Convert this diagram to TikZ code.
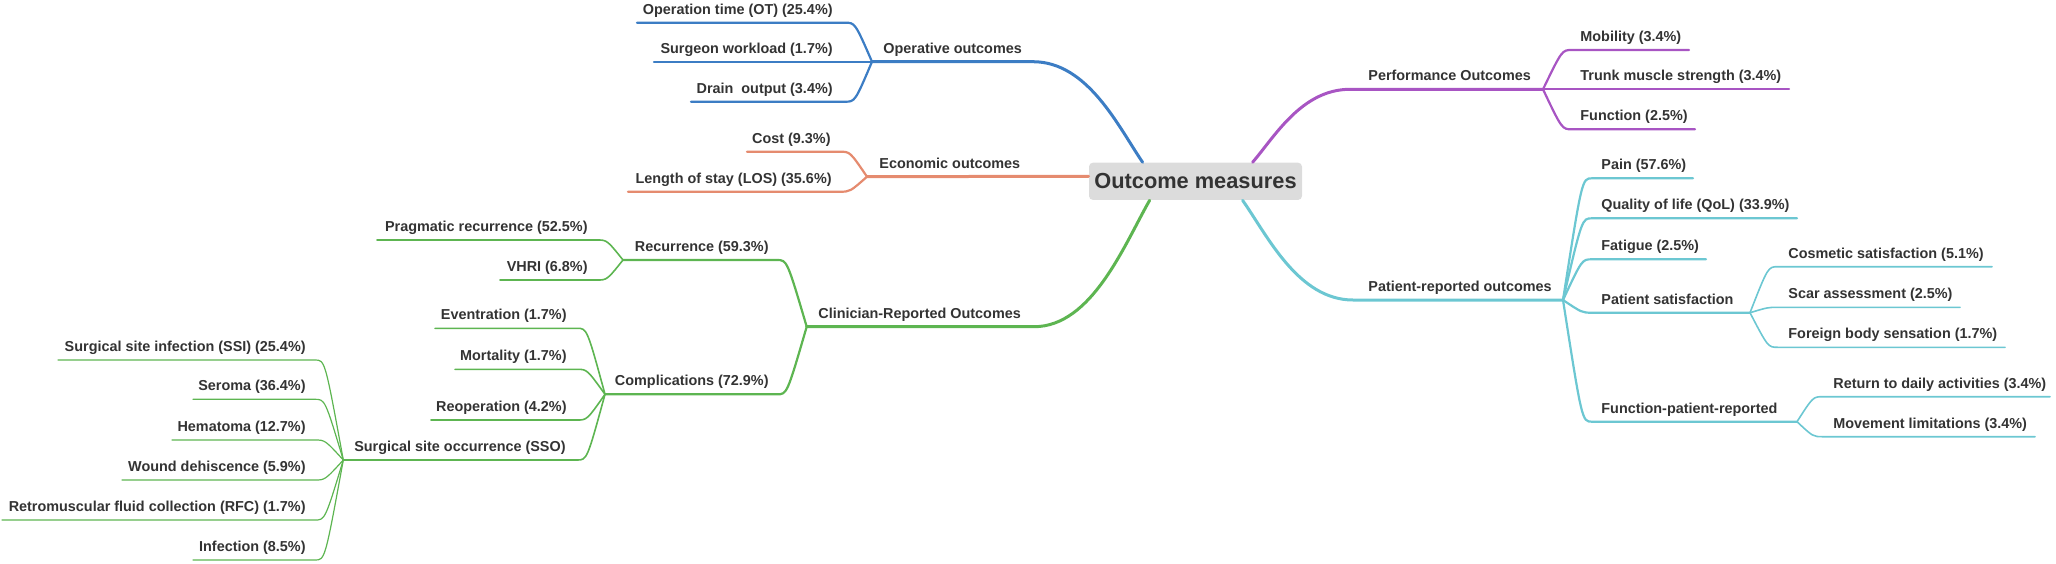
\documentclass[tikz,border=0pt]{standalone}
\usepackage{fontspec}
\setmainfont{Liberation Sans}
\usetikzlibrary{calc}
\definecolor{cblue}{HTML}{3C7DC4}
\definecolor{corange}{HTML}{E58B6F}
\definecolor{cpurple}{HTML}{A855C3}
\definecolor{cgreen}{HTML}{5DB551}
\definecolor{ccyan}{HTML}{6CC7D2}
\definecolor{rootgray}{HTML}{DCDCDC}
\definecolor{txt}{HTML}{333333}
\tikzset{
  lbl/.style={font=\bfseries\fontsize{7.2pt}{8pt}\selectfont, text=txt, inner sep=0pt},
  rootbox/.style={fill=rootgray, rounded corners=2pt, minimum width=106.5pt, minimum height=18.65pt,
    inner sep=0pt, font=\bfseries\fontsize{10.9pt}{12pt}\selectfont, text=txt},
  lw1/.style={line width=1.5pt, line cap=round},
  lw2/.style={line width=1.1pt, line cap=round},
  lw3/.style={line width=0.8pt, line cap=round},
  lw4/.style={line width=0.6pt, line cap=round},
}
% left-side topic: name, line start x, flat end x, y, text right x, text, parent, style
\newcommand\Lnode[8]{%
  \coordinate (#1-s) at (#2,#4);
  \coordinate (#1-e) at (#3,#4);
  \node[lbl,anchor=base east] (#1) at (#5,#4-8.5) {#6};
  \draw[#8] (#1-s) -- (#1-e) .. controls ($(#1-e)+(10,0)$) .. (#7);
}
% right-side topic: name, flat start x, line end x, y, text left x, text, parent, style
\newcommand\Rnode[8]{%
  \coordinate (#1-s) at (#2,#4);
  \coordinate (#1-e) at (#3,#4);
  \node[lbl,anchor=base west] (#1) at (#5,#4-8.5) {#6};
  \draw[#8] (#7) .. controls ($(#1-s)+(-10,0)$) .. (#1-s) -- (#1-e);
}
\begin{document}
\begin{tikzpicture}[x=0.5pt,y=-0.5pt]
\useasboundingbox (0,0) rectangle (2056,563);
\node[rootbox] (root) at (1195.5,181.3) {Outcome measures};
\coordinate (rb) at ($(root.north west)+(54,0)$);
\coordinate (ro) at ($(root.north west)+(0,14)$);
\coordinate (rg) at ($(root.south west)+(61,0)$);
\coordinate (rp) at ($(root.north west)+(164,0)$);
\coordinate (rc) at ($(root.south west)+(154,0)$);

% main branches
\coordinate (op-s) at (872,61.7);
\coordinate (op-e) at (1033,61.7);
\node[lbl,anchor=base west] (op) at (883,53.2) {Operative outcomes};
\draw[cblue,lw1] (op-s) -- (op-e) .. controls (1088,61.7) and (1118.8,127.5) .. (rb);

\coordinate (ec-s) at (867,176.7);
\node[lbl,anchor=base west] (ec) at (879,168.2) {Economic outcomes};
\draw[corange,lw1] (ec-s) -- (ro);

\coordinate (cl-s) at (806.7,326.7);
\coordinate (cl-e) at (1034,326.7);
\node[lbl,anchor=base west] (cl) at (818,318.2) {Clinician-Reported Outcomes};
\draw[cgreen,lw1] (cl-s) -- (cl-e) .. controls (1092,326.7) and (1124.5,244.3) .. (rg);

\coordinate (pe-s) at (1350,89.3);
\coordinate (pe-e) at (1543,89.3);
\node[lbl,anchor=base west] (pe) at (1368,80.8) {Performance Outcomes};
\draw[cpurple,lw1] (rp) .. controls (1274.3,137.2) and (1301.5,89.3) .. (pe-s) -- (pe-e);

\coordinate (pa-s) at (1353,300);
\coordinate (pa-e) at (1563,300);
\node[lbl,anchor=base west] (pa) at (1368,291.5) {Patient-reported outcomes};
\draw[ccyan,lw1] (rc) .. controls (1267,235) and (1298,300) .. (pa-s) -- (pa-e);

% operative
\Lnode{ot}{637}{845}{22.7}{833}{Operation time (OT) (25.4\%)}{op-s}{cblue,lw2}
\Lnode{sw}{654}{845}{61.7}{833}{Surgeon workload (1.7\%)}{op-s}{cblue,lw2}
\Lnode{dr}{691}{845}{101.7}{833}{Drain\ \ output (3.4\%)}{op-s}{cblue,lw2}
% economic
\Lnode{co}{747}{840}{151.7}{831}{Cost (9.3\%)}{ec-s}{corange,lw2}
\Lnode{los}{628}{840}{191.7}{832}{Length of stay (LOS) (35.6\%)}{ec-s}{corange,lw2}
% clinician
\Lnode{re}{623}{777}{260}{769}{Recurrence (59.3\%)}{cl-s}{cgreen,lw2}
\Lnode{cp}{605}{777}{394.3}{769}{Complications (72.9\%)}{cl-s}{cgreen,lw2}
\Lnode{pr}{377}{597}{240}{588}{Pragmatic recurrence (52.5\%)}{re-s}{cgreen,lw3}
\Lnode{vh}{500}{597}{280}{588}{VHRI (6.8\%)}{re-s}{cgreen,lw3}
\Lnode{ev}{435}{577}{328.3}{567}{Eventration (1.7\%)}{cp-s}{cgreen,lw3}
\Lnode{mo}{455}{577}{369.3}{567}{Mortality (1.7\%)}{cp-s}{cgreen,lw3}
\Lnode{reo}{431}{577}{420}{567}{Reoperation (4.2\%)}{cp-s}{cgreen,lw3}
\Lnode{sso}{343.3}{577}{460}{566}{Surgical site occurrence (SSO)}{cp-s}{cgreen,lw3}
\Lnode{ssi}{58}{315}{360}{306}{Surgical site infection (SSI) (25.4\%)}{sso-s}{cgreen,lw4}
\Lnode{ser}{193}{315}{399.3}{306}{Seroma (36.4\%)}{sso-s}{cgreen,lw4}
\Lnode{hem}{172}{315}{440}{306}{Hematoma (12.7\%)}{sso-s}{cgreen,lw4}
\Lnode{wd}{122}{315}{480}{306}{Wound dehiscence (5.9\%)}{sso-s}{cgreen,lw4}
\Lnode{rfc}{2}{315}{520}{306}{Retromuscular fluid collection (RFC) (1.7\%)}{sso-s}{cgreen,lw4}
\Lnode{inf}{193}{315}{560}{306}{Infection (8.5\%)}{sso-s}{cgreen,lw4}
% performance
\Rnode{mob}{1572}{1689}{50}{1580}{Mobility (3.4\%)}{pe-e}{cpurple,lw2}
\Rnode{tr}{1572}{1789}{89.3}{1580}{Trunk muscle strength (3.4\%)}{pe-e}{cpurple,lw2}
\Rnode{fn}{1572}{1695}{129.3}{1580}{Function (2.5\%)}{pe-e}{cpurple,lw2}
% patient-reported
\Rnode{pain}{1592}{1693}{178.3}{1601}{Pain (57.6\%)}{pa-e}{ccyan,lw2}
\Rnode{qol}{1592}{1797}{218.3}{1601}{Quality of life (QoL) (33.9\%)}{pa-e}{ccyan,lw2}
\Rnode{fat}{1592}{1706}{259.3}{1601}{Fatigue (2.5\%)}{pa-e}{ccyan,lw2}
\Rnode{ps}{1592}{1750}{312.7}{1601}{Patient satisfaction}{pa-e}{ccyan,lw2}
\Rnode{fp}{1592}{1797}{421.7}{1601}{Function-patient-reported}{pa-e}{ccyan,lw2}
\Rnode{cos}{1778}{1992}{266.7}{1788}{Cosmetic satisfaction (5.1\%)}{ps-e}{ccyan,lw3}
\Rnode{scar}{1778}{1960}{307.3}{1788}{Scar assessment (2.5\%)}{ps-e}{ccyan,lw3}
\Rnode{fb}{1778}{2005}{347.3}{1788}{Foreign body sensation (1.7\%)}{ps-e}{ccyan,lw3}
\Rnode{ret}{1823}{2050}{396.7}{1833}{Return to daily activities (3.4\%)}{fp-e}{ccyan,lw3}
\Rnode{mov}{1823}{2035}{436.7}{1833}{Movement limitations (3.4\%)}{fp-e}{ccyan,lw3}
\end{tikzpicture}
\end{document}
